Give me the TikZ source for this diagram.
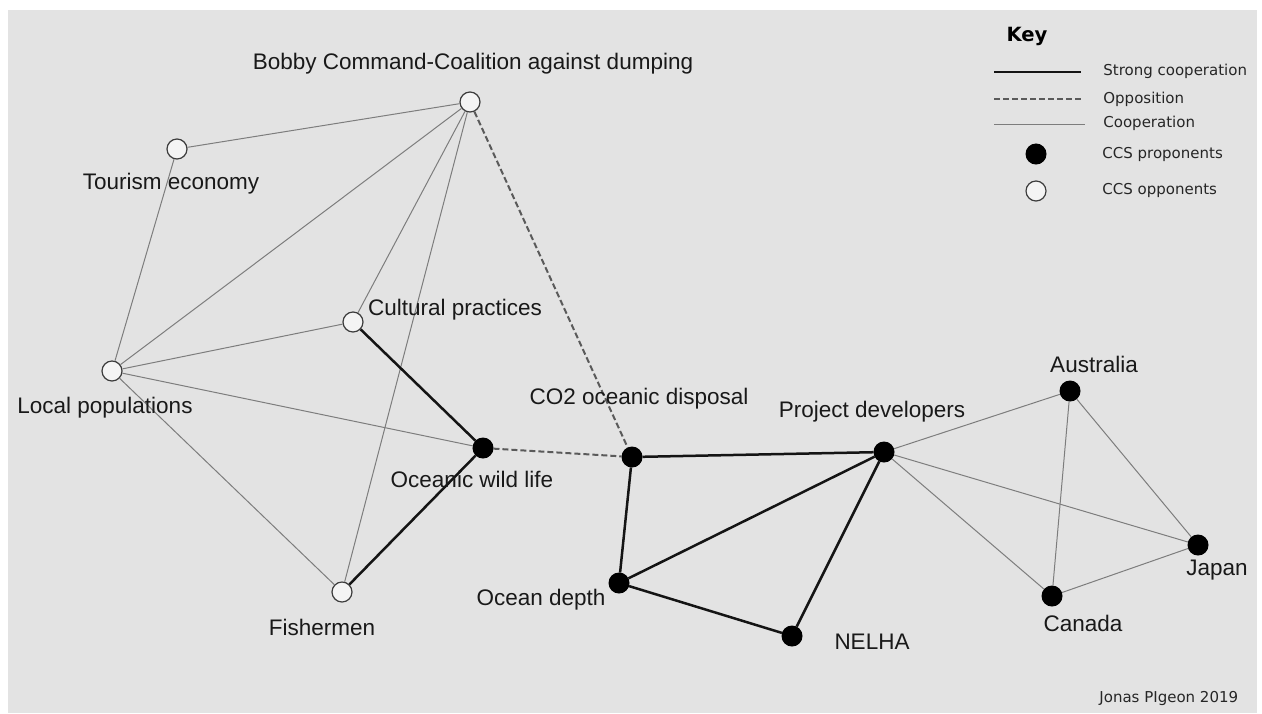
\documentclass[tikz,border=0pt]{standalone}
\usepackage{fontspec}
\setmainfont{Liberation Sans}
\newfontfamily\keyfont{DejaVu Sans}
\begin{document}
\begin{tikzpicture}[x=0.5pt,y=-0.5pt,
  bgc/.style={fill={rgb,255:red,227;green,227;blue,227}},
  pro/.style={circle,fill=black,draw=black,line width=0.5pt,minimum size=10pt,inner sep=0pt},
  opp/.style={circle,fill={rgb,255:red,244;green,244;blue,244},draw={rgb,255:red,60;green,60;blue,60},line width=0.6pt,minimum size=10pt,inner sep=0pt},
  lbl/.style={font=\fontsize{11.25}{13}\selectfont,inner sep=0pt,text=black!90},
  keytxt/.style={font=\keyfont\fontsize{7.5}{9}\selectfont,inner sep=0pt,anchor=west,text=black!85},
  coop/.style={draw={rgb,255:red,125;green,125;blue,125},line width=0.5pt},
  strong/.style={draw={rgb,255:red,20;green,20;blue,20},line width=1.25pt},
  oppo/.style={draw={rgb,255:red,90;green,90;blue,90},line width=1pt,dash pattern=on 3pt off 1.5pt}]
\useasboundingbox (0,0) rectangle (1262,713);
\fill[white] (0,0) rectangle (1262,713);
\fill[bgc] (8,10) rectangle (1257,713);

% nodes
\node[opp] (bobby) at (470,102) {};
\node[opp] (tour) at (177,149) {};
\node[opp] (cult) at (353,322) {};
\node[opp] (local) at (112,371) {};
\node[opp] (fish) at (342,592) {};
\node[pro] (wild) at (483,448) {};
\node[pro] (co2) at (632,457) {};
\node[pro] (proj) at (884,452) {};
\node[pro] (aus) at (1070,391) {};
\node[pro] (jap) at (1198,545) {};
\node[pro] (can) at (1052,596) {};
\node[pro] (depth) at (619,583) {};
\node[pro] (nelha) at (792,636) {};

% edges
\path[coop] (bobby) -- (tour);
\path[coop] (bobby) -- (local);
\path[coop] (bobby) -- (cult);
\path[coop] (bobby) -- (fish);
\path[coop] (tour) -- (local);
\path[coop] (local) -- (cult);
\path[coop] (local) -- (wild);
\path[coop] (local) -- (fish);
\path[coop] (proj) -- (aus);
\path[coop] (proj) -- (jap);
\path[coop] (proj) -- (can);
\path[coop] (aus) -- (jap);
\path[coop] (aus) -- (can);
\path[coop] (can) -- (jap);
\path[strong] (cult) -- (wild);
\path[strong] (wild) -- (fish);
\path[strong] (co2) -- (proj);
\path[strong] (co2) -- (depth);
\path[strong] (depth) -- (proj);
\path[strong] (depth) -- (nelha);
\path[strong] (nelha) -- (proj);
\path[oppo] (bobby) -- (co2);
\path[oppo] (wild) -- (co2);

% labels
\node[lbl] (lbobby) at (473,64) {Bobby Command-Coalition against dumping};
\node[lbl] (ltour) at (171,184) {Tourism economy};
\node[lbl] (lcult) at (455,310) {Cultural practices};
\node[lbl] (llocal) at (105,408) {Local populations};
\node[lbl] (lwild) at (472,479) {Oceanic wild life};
\node[lbl] (lco2) at (639,399) {CO2 oceanic disposal};
\node[lbl] (lproj) at (872,412) {Project developers};
\node[lbl] (laus) at (1094,364) {Australia};
\node[lbl] (ljap) at (1217,570) {Japan};
\node[lbl] (lcan) at (1083,623) {Canada};
\node[lbl] (ldepth) at (541,600) {Ocean depth};
\node[lbl] (lnelha) at (872,642) {NELHA};
\node[lbl] (lfish) at (322,627) {Fishermen};

% key
\node[font=\keyfont\bfseries\fontsize{9.8}{11}\selectfont,inner sep=0pt] (key) at (1027,36) {Key};
\coordinate (k1a) at (994,72); \coordinate (k1b) at (1081,72);
\coordinate (k2a) at (994,99); \coordinate (k2b) at (1083,99);
\coordinate (k3a) at (994,124); \coordinate (k3b) at (1085,124);
\path[strong] (k1a) -- (k1b);
\path[oppo] (k2a) -- (k2b);
\path[coop] (k3a) -- (k3b);
\node[pro] (kpro) at (1036,154) {};
\node[opp] (kopp) at (1036,191) {};
\node[keytxt] (t1) at (1103,71) {Strong cooperation};
\node[keytxt] (t2) at (1103,99) {Opposition};
\node[keytxt] (t3) at (1103,123) {Cooperation};
\node[keytxt] (t4) at (1102,154) {CCS proponents};
\node[keytxt] (t5) at (1102,190) {CCS opponents};
\node[keytxt] (sig) at (1099,698) {Jonas PIgeon 2019};
\end{tikzpicture}
\end{document}
